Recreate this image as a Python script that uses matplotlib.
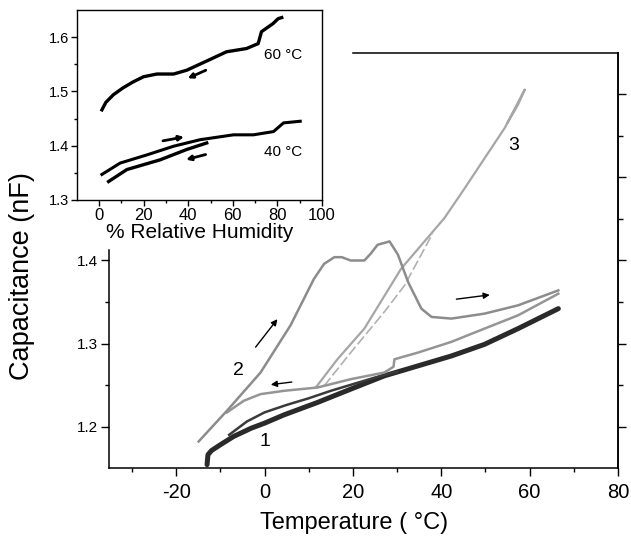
import matplotlib
matplotlib.use('Agg')
import matplotlib.pyplot as plt

plt.rcParams['font.family'] = ['Liberation Sans', 'DejaVu Sans']
plt.rcParams['axes.unicode_minus'] = False

# --- main panel: capacitance vs temperature ---
# curve 1 (dark band, two strands)
c1_t = [-13.0, -12.8, -12.0, -10.0, -7.0, -3.0, 0.0, 4.4, 12.0, 19.5, 27.1, 34.7, 42.3, 49.8, 57.4, 66.5]
c1_c = [1.154, 1.166, 1.171, 1.178, 1.188, 1.198, 1.204, 1.214, 1.229, 1.245, 1.261, 1.273, 1.285, 1.299, 1.318, 1.342]
c1b_t = [-8.0, -4.0, 0.0, 5.0, 10.0, 15.0, 20.0, 25.0, 30.0]
c1b_c = [1.190, 1.206, 1.217, 1.226, 1.234, 1.243, 1.251, 1.259, 1.266]

# curve 2, heating (up) and cooling (down)
c2h_t = [-14.9, -8.5, -0.9, 5.9, 11.2, 13.5, 15.8, 17.5, 19.5, 22.6, 24.0, 25.6, 28.3, 30.2, 32.5, 35.5, 37.8, 42.3, 49.8, 57.4, 66.5]
c2h_c = [1.182, 1.219, 1.265, 1.322, 1.378, 1.396, 1.404, 1.404, 1.400, 1.400, 1.408, 1.419, 1.423, 1.407, 1.374, 1.342, 1.332, 1.330, 1.336, 1.346, 1.364]
c2c_t = [66.5, 57.4, 49.8, 42.3, 34.7, 29.4, 29.2, 27.1, 19.5, 12.0, 4.4, -0.9, -4.7, -8.5]
c2c_c = [1.360, 1.334, 1.318, 1.302, 1.289, 1.281, 1.272, 1.265, 1.257, 1.247, 1.243, 1.239, 1.231, 1.217]

# curve 3 (two strands)
c3_t = [11.6, 16.5, 22.6, 30.9, 40.7, 45.3, 54.4, 58.9, 57.4, 55.0]
c3_c = [1.247, 1.281, 1.318, 1.390, 1.451, 1.487, 1.560, 1.606, 1.588, 1.566]
c3b_t = [13.5, 19.5, 27.1, 31.7, 38.0]
c3b_c = [1.249, 1.289, 1.338, 1.370, 1.432]

# --- inset: capacitance vs relative humidity ---
rh60 = [1.2, 3.0, 6.4, 10.5, 15.0, 19.9, 25.9, 33.4, 39.3, 48.3, 57.2, 66.2, 71.4, 72.9, 78.1, 80.4, 82.0]
cap60 = [1.466, 1.480, 1.494, 1.506, 1.517, 1.527, 1.532, 1.532, 1.539, 1.556, 1.573, 1.579, 1.588, 1.610, 1.625, 1.634, 1.636]
rh40a = [1.2, 9.4, 21.4, 33.4, 45.3, 60.3, 69.3, 78.3, 82.8, 90.3]
cap40a = [1.347, 1.368, 1.383, 1.399, 1.411, 1.420, 1.420, 1.426, 1.442, 1.445]
rh40b = [4.2, 12.4, 27.4, 39.3, 48.3]
cap40b = [1.334, 1.356, 1.374, 1.393, 1.405]

fig = plt.figure(figsize=(6.31, 5.39), dpi=100)
ax = fig.add_axes([0.1727, 0.1317, 0.8067, 0.77])

ax.plot(c1_t, c1_c, color='#2a2a2a', lw=3.6, solid_capstyle='round')
ax.plot(c1b_t, c1b_c, color='#3a3a3a', lw=1.8)
ax.plot(c3_t, c3_c, color='#a6a6a6', lw=1.6)
ax.plot(c3b_t, c3b_c, color='#b0b0b0', lw=1.2, ls=(0, (6, 2)))
ax.plot(c2c_t, c2c_c, color='#959595', lw=1.8)
ax.plot(c2h_t, c2h_c, color='#8c8c8c', lw=1.8)

arrow = dict(arrowstyle='-|>', color='k', lw=1.0, mutation_scale=9)
ax.annotate('', xy=(3.3, 1.332), xytext=(-2.4, 1.293), arrowprops=arrow)
ax.annotate('', xy=(0.8, 1.250), xytext=(6.8, 1.254), arrowprops=arrow)
ax.annotate('', xy=(51.6, 1.359), xytext=(42.8, 1.353), arrowprops=arrow)

ax.text(0.2, 1.182, '1', fontsize=14, ha='center', va='center')
ax.text(-5.8, 1.267, '2', fontsize=14, ha='center', va='center')
ax.text(56.3, 1.538, '3', fontsize=14, ha='center', va='center')

ax.set_xlim(-35.2, 80)
ax.set_ylim(1.15, 1.65)
ax.set_xticks([-20, 0, 20, 40, 60, 80])
ax.set_xticks([-30, -10, 10, 30, 50, 70], minor=True)
ax.set_yticks([1.2, 1.3, 1.4])
ax.set_yticks([1.25, 1.35], minor=True)
ax.tick_params(axis='x', which='major', direction='out', length=6, width=1, labelsize=14.5, pad=5)
ax.tick_params(axis='x', which='minor', direction='out', length=3, width=1)
ax.tick_params(axis='y', which='major', direction='out', length=6, width=1, labelsize=11, pad=2)
ax.tick_params(axis='y', which='minor', direction='out', length=3, width=1)
for s in ax.spines.values():
    s.set_linewidth(1.1)
ax.spines['left'].set_bounds(1.15, 1.413)
ax.spines['top'].set_bounds(20, 80)

sec = ax.secondary_yaxis('right')
sec.set_yticks([1.2, 1.3, 1.4, 1.5, 1.6])
sec.set_yticks([1.25, 1.35, 1.45, 1.55], minor=True)
sec.tick_params(axis='y', which='major', direction='out', length=6, width=1, labelright=False)
sec.tick_params(axis='y', which='minor', direction='out', length=3.5, width=1)
sec.spines['right'].set_linewidth(1.1)

fig.text(22 / 631, 1 - 276 / 539, 'Capacitance (nF)', rotation=90, fontsize=19.5, ha='center', va='center')
fig.text(354 / 631, 1 - 523 / 539, 'Temperature ( °C)', fontsize=17, ha='center', va='center')

# inset
ins = fig.add_axes([0.122, 0.629, 0.388, 0.3525])
ins.plot(rh60, cap60, color='k', lw=2.4)
ins.plot(rh40a, cap40a, color='k', lw=2.2)
ins.plot(rh40b, cap40b, color='k', lw=2.4)
iarrow = dict(arrowstyle='-|>', color='k', lw=2.0, mutation_scale=7)
ins.annotate('', xy=(38.6, 1.522), xytext=(49.0, 1.541), arrowprops=iarrow)
ins.annotate('', xy=(39.3, 1.417), xytext=(27.4, 1.408), arrowprops=iarrow)
ins.annotate('', xy=(37.8, 1.373), xytext=(49.0, 1.385), arrowprops=iarrow)
ins.text(82.5, 1.567, '60 °C', fontsize=11, ha='center', va='center')
ins.text(82.5, 1.389, '40 °C', fontsize=11, ha='center', va='center')

ins.set_xlim(-10, 100)
ins.set_ylim(1.3, 1.65)
ins.set_xticks([0, 20, 40, 60, 80, 100])
ins.set_xticks([10, 30, 50, 70, 90], minor=True)
ins.set_yticks([1.3, 1.4, 1.5, 1.6])
ins.set_yticks([1.35, 1.45, 1.55], minor=True)
ins.tick_params(axis='x', which='major', direction='out', length=4, width=1, labelsize=12, pad=2)
ins.tick_params(axis='x', which='minor', direction='out', length=2.5, width=1)
ins.tick_params(axis='y', which='major', direction='out', length=4, width=1, labelsize=10.5, pad=2)
ins.tick_params(axis='y', which='minor', direction='out', length=2.5, width=1)
for s in ins.spines.values():
    s.set_linewidth(1.0)
ins.set_xlabel('% Relative Humidity', fontsize=15, labelpad=0)

fig.savefig('out.png', dpi=100)
